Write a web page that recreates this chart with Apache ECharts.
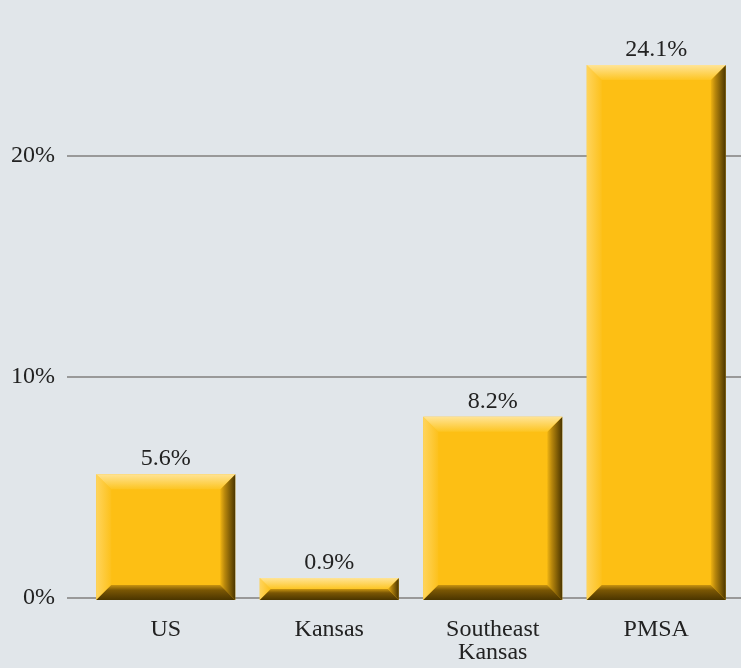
<!DOCTYPE html>
<html><head><meta charset="utf-8">
<style>html,body{margin:0;padding:0;background:#e1e6ea;}#c{width:741px;height:668px;}</style>
<script src="https://cdn.jsdelivr.net/npm/echarts@6/dist/echarts.min.js"></script>
</head><body><div id="c"></div>
<script>
const categories = ['US', 'Kansas', 'Southeast\nKansas', 'PMSA'];
const values = [5.6, 0.9, 8.2, 24.1];
const yTicks = [0, 10, 20];

const BG = '#e1e6ea';
const MAIN = '#fdbf14';
const FONT = '"Liberation Serif", "DejaVu Serif", serif';
const chart = echarts.init(document.getElementById('c'));

function renderBevel(params, api) {
  const i = api.value(0), v = api.value(1);
  const base = api.coord([i, 0]);
  const top = api.coord([i, v]);
  const w = api.size([1, 0])[0] * 0.85;
  const cx = base[0];
  const x0 = cx - w / 2, x1 = cx + w / 2, y0 = top[1], y1 = base[1] + 2;
  const b = Math.min(15, (y1 - y0) / 2);
  const G = echarts.graphic.LinearGradient;
  return {
    type: 'group',
    children: [
      { type: 'rect', shape: { x: x0, y: y0, width: w, height: y1 - y0 }, style: { fill: MAIN } },
      { type: 'polygon', shape: { points: [[x0, y0], [x0 + b, y0 + b], [x0 + b, y1 - b], [x0, y1]] },
        style: { fill: new G(0, 0, 1, 0, [{ offset: 0, color: '#ffd45c' }, { offset: 1, color: '#fdc11c' }]) } },
      { type: 'polygon', shape: { points: [[x1, y0], [x1, y1], [x1 - b, y1 - b], [x1 - b, y0 + b]] },
        style: { fill: new G(0, 0, 1, 0, [{ offset: 0, color: '#f0b412' }, { offset: 0.3, color: '#b8870c' }, { offset: 1, color: '#4a3500' }]) } },
      { type: 'polygon', shape: { points: [[x0, y1], [x1, y1], [x1 - b, y1 - b], [x0 + b, y1 - b]] },
        style: { fill: new G(0, 0, 0, 1, [{ offset: 0, color: '#c89410' }, { offset: 0.35, color: '#7a5604' }, { offset: 1, color: '#4a3500' }]) } },
      { type: 'polygon', shape: { points: [[x0, y0], [x1, y0], [x1 - b, y0 + b], [x0 + b, y0 + b]] },
        style: { fill: new G(0, 0, 0, 1, [{ offset: 0, color: '#ffe496' }, { offset: 1, color: '#fdc522' }]) } }
    ]
  };
}

chart.setOption({
  backgroundColor: BG,
  animation: false,
  grid: [
    { left: 67, right: 0, top: 1, bottom: 70 },
    { left: 84, right: 3, top: 1, bottom: 70 }
  ],
  xAxis: [
    { gridIndex: 0, type: 'value', min: 0, max: 1, show: false },
    { gridIndex: 1, type: 'category', data: categories,
      axisLine: { show: false }, axisTick: { show: false },
      axisLabel: { color: '#222', fontFamily: FONT, fontSize: 24, lineHeight: 23, margin: 20, interval: 0 } }
  ],
  yAxis: [
    { gridIndex: 0, type: 'value', min: 0, max: 27, interval: 10,
      axisLine: { show: false }, axisTick: { show: false },
      axisLabel: { color: '#222', fontFamily: FONT, fontSize: 24, margin: 12, showMaxLabel: false,
        formatter: v => yTicks.indexOf(v) >= 0 ? v + '%' : '' },
      splitLine: { showMaxLine: false, lineStyle: { color: '#999', width: 2 } } },
    { gridIndex: 1, type: 'value', min: 0, max: 27, interval: 10, show: false }
  ],
  series: [
    { type: 'custom', xAxisIndex: 1, yAxisIndex: 1, renderItem: renderBevel,
      data: values.map((v, i) => [i, v]), z: 3 },
    { type: 'bar', xAxisIndex: 1, yAxisIndex: 1, data: values, barWidth: '85%',
      itemStyle: { color: 'rgba(0,0,0,0)' }, z: 4,
      label: { show: true, position: 'top', distance: 3, formatter: p => p.value + '%',
        color: '#222', fontFamily: FONT, fontSize: 24, backgroundColor: BG, padding: [0, 4] } }
  ]
});
</script></body></html>
